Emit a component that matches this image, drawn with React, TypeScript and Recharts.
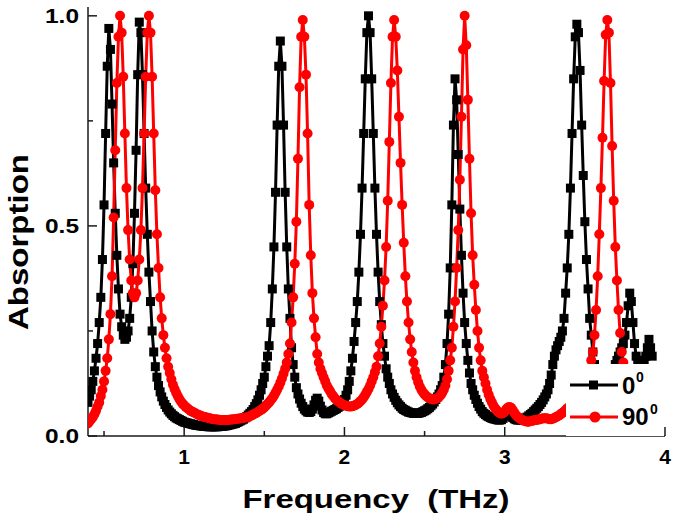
import { LineChart, Line, XAxis, YAxis, Legend, Label } from "recharts";

// sweep grid of the simulation (THz)
const FREQ_START = 0.4;
const FREQ_STEP = 0.01;

// absorption, 0 deg polarisation (one value per grid step, 0.40 .. 3.92)
const ABS_0 = [
  0.08, 0.095, 0.11, 0.13, 0.155, 0.185, 0.22, 0.27, 0.33, 0.42,
  0.55, 0.72, 0.88, 0.97, 0.92, 0.79, 0.65, 0.53, 0.43, 0.35,
  0.29, 0.26, 0.24, 0.23, 0.235, 0.25, 0.28, 0.33, 0.41, 0.53,
  0.68, 0.86, 0.985, 0.96, 0.86, 0.72, 0.59, 0.48, 0.39, 0.32,
  0.25, 0.2, 0.165, 0.14, 0.12, 0.105, 0.093, 0.083, 0.075, 0.068,
  0.062, 0.057, 0.053, 0.049, 0.046, 0.043, 0.041, 0.039, 0.037, 0.035,
  0.033, 0.032, 0.031, 0.03, 0.029, 0.028, 0.027, 0.026, 0.025, 0.025,
  0.024, 0.024, 0.023, 0.023, 0.023, 0.022, 0.022, 0.022, 0.022, 0.022,
  0.022, 0.022, 0.023, 0.023, 0.023, 0.024, 0.024, 0.025, 0.026, 0.027,
  0.028, 0.029, 0.03, 0.032, 0.034, 0.036, 0.038, 0.04, 0.043, 0.046,
  0.05, 0.054, 0.058, 0.063, 0.07, 0.077, 0.086, 0.097, 0.11, 0.125,
  0.14, 0.165, 0.19, 0.215, 0.27, 0.35, 0.45, 0.58, 0.74, 0.88,
  0.94, 0.88, 0.74, 0.58, 0.45, 0.35, 0.28, 0.21, 0.17, 0.14,
  0.115, 0.1, 0.088, 0.078, 0.07, 0.064, 0.06, 0.057, 0.056, 0.058,
  0.064, 0.074, 0.085, 0.09, 0.083, 0.071, 0.062, 0.056, 0.053, 0.053,
  0.055, 0.057, 0.059, 0.061, 0.063, 0.065, 0.068, 0.071, 0.075, 0.08,
  0.087, 0.097, 0.11, 0.13, 0.155, 0.185, 0.225, 0.27, 0.32, 0.39,
  0.48, 0.59, 0.72, 0.85, 0.96, 1.0, 0.96, 0.85, 0.72, 0.59,
  0.48, 0.39, 0.32, 0.265, 0.22, 0.19, 0.16, 0.14, 0.125, 0.11,
  0.1, 0.092, 0.085, 0.079, 0.074, 0.07, 0.066, 0.063, 0.061, 0.059,
  0.057, 0.056, 0.055, 0.054, 0.054, 0.054, 0.054, 0.055, 0.056, 0.058,
  0.06, 0.062, 0.065, 0.068, 0.072, 0.076, 0.081, 0.087, 0.093, 0.1,
  0.11, 0.12, 0.14, 0.17, 0.22, 0.29, 0.4, 0.55, 0.74, 0.85,
  0.8, 0.67, 0.54, 0.43, 0.34, 0.27, 0.22, 0.18, 0.15, 0.125,
  0.11, 0.097, 0.087, 0.078, 0.07, 0.064, 0.058, 0.054, 0.051, 0.048,
  0.046, 0.044, 0.042, 0.041, 0.04, 0.039, 0.038, 0.038, 0.039, 0.042,
  0.047, 0.052, 0.055, 0.053, 0.048, 0.044, 0.041, 0.039, 0.038, 0.038,
  0.038, 0.039, 0.041, 0.043, 0.045, 0.048, 0.051, 0.054, 0.058, 0.062,
  0.066, 0.07, 0.075, 0.08, 0.086, 0.093, 0.1, 0.11, 0.125, 0.145,
  0.17, 0.19, 0.205, 0.215, 0.225, 0.235, 0.25, 0.28, 0.34, 0.4,
  0.48, 0.59, 0.72, 0.85, 0.95, 0.98, 0.96, 0.87, 0.74, 0.62,
  0.51, 0.42, 0.35, 0.28, 0.24, 0.2, 0.17, 0.15, 0.14, 0.13,
  0.125, 0.12, 0.12, 0.12, 0.125, 0.13, 0.14, 0.15, 0.16, 0.17,
  0.18, 0.19, 0.2, 0.21, 0.22, 0.24, 0.27, 0.31, 0.34, 0.32,
  0.27, 0.22, 0.19, 0.18, 0.17, 0.17, 0.17, 0.18, 0.19, 0.21,
  0.23, 0.21, 0.19,
];

// absorption, 90 deg polarisation
const ABS_90 = [
  0.03, 0.035, 0.04, 0.045, 0.052, 0.06, 0.07, 0.08, 0.095, 0.11,
  0.13, 0.155, 0.185, 0.23, 0.29, 0.38, 0.52, 0.68, 0.84, 0.95,
  1.0, 0.96, 0.855, 0.72, 0.59, 0.49, 0.42, 0.37, 0.34, 0.33,
  0.34, 0.37, 0.42, 0.49, 0.59, 0.72, 0.855, 0.96, 1.0, 0.96,
  0.855, 0.72, 0.585, 0.48, 0.4, 0.33, 0.28, 0.24, 0.21, 0.185,
  0.165, 0.15, 0.135, 0.122, 0.112, 0.103, 0.095, 0.088, 0.082, 0.077,
  0.073, 0.069, 0.066, 0.063, 0.06, 0.058, 0.056, 0.054, 0.052, 0.05,
  0.049, 0.047, 0.046, 0.045, 0.044, 0.043, 0.042, 0.041, 0.04, 0.04,
  0.039, 0.039, 0.038, 0.038, 0.038, 0.038, 0.038, 0.038, 0.038, 0.039,
  0.039, 0.04, 0.04, 0.041, 0.041, 0.042, 0.042, 0.043, 0.044, 0.044,
  0.045, 0.047, 0.049, 0.051, 0.053, 0.055, 0.057, 0.06, 0.062, 0.065,
  0.068, 0.072, 0.076, 0.08, 0.085, 0.09, 0.096, 0.103, 0.11, 0.118,
  0.127, 0.137, 0.148, 0.16, 0.175, 0.195, 0.22, 0.27, 0.33, 0.41,
  0.51, 0.66, 0.83, 0.95, 0.99, 0.95, 0.86, 0.72, 0.55, 0.43,
  0.34, 0.28, 0.235, 0.195, 0.175, 0.16, 0.15, 0.14, 0.13, 0.12,
  0.113, 0.107, 0.1, 0.095, 0.09, 0.086, 0.083, 0.08, 0.077, 0.075,
  0.073, 0.072, 0.071, 0.07, 0.07, 0.071, 0.072, 0.074, 0.076, 0.079,
  0.083, 0.087, 0.092, 0.098, 0.105, 0.112, 0.12, 0.13, 0.14, 0.152,
  0.165, 0.19, 0.22, 0.26, 0.31, 0.37, 0.45, 0.56, 0.7, 0.84,
  0.95, 0.99, 0.95, 0.87, 0.76, 0.65, 0.55, 0.46, 0.38, 0.32,
  0.27, 0.23, 0.2, 0.175, 0.155, 0.14, 0.128, 0.118, 0.11, 0.104,
  0.099, 0.095, 0.092, 0.09, 0.088, 0.087, 0.087, 0.088, 0.09, 0.093,
  0.097, 0.103, 0.11, 0.12, 0.135, 0.155, 0.18, 0.21, 0.26, 0.32,
  0.4, 0.49, 0.61, 0.76, 0.92, 1.0, 0.93, 0.8, 0.66, 0.53,
  0.43, 0.36, 0.3, 0.25, 0.21, 0.18, 0.155, 0.14, 0.125, 0.11,
  0.098, 0.088, 0.08, 0.072, 0.066, 0.061, 0.057, 0.054, 0.053, 0.054,
  0.058, 0.064, 0.068, 0.069, 0.067, 0.062, 0.055, 0.05, 0.046, 0.043,
  0.04, 0.038, 0.036, 0.035, 0.034, 0.034, 0.035, 0.036, 0.037, 0.038,
  0.038, 0.039, 0.04, 0.041, 0.042, 0.042, 0.042, 0.041, 0.04, 0.04,
  0.041, 0.043, 0.045, 0.047, 0.049, 0.052, 0.055, 0.058, 0.062, 0.066,
  0.068, 0.072, 0.076, 0.08, 0.085, 0.09, 0.095, 0.1, 0.105, 0.112,
  0.12, 0.13, 0.145, 0.16, 0.18, 0.2, 0.24, 0.3, 0.38, 0.48,
  0.59, 0.71, 0.845, 0.955, 0.99, 0.96, 0.84, 0.69, 0.56, 0.45,
  0.37, 0.3, 0.245, 0.2, 0.175, 0.155, 0.14, 0.125, 0.115, 0.105,
  0.097, 0.09, 0.085, 0.08, 0.075, 0.072, 0.068, 0.065, 0.062, 0.06,
  0.058, 0.056, 0.054,
];

const X_TICKS = [0.5, 1, 1.5, 2, 2.5, 3, 3.5, 4];
const Y_TICKS = [0, 0.25, 0.5, 0.75, 1];
const Y_LABELS: Record<number, string> = { 0: "0.0", 0.5: "0.5", 1: "1.0" };

const FONT = "'Liberation Sans', Arial, sans-serif";
const AXIS = "#1a1a1a";

const data = ABS_0.map((v, i) => ({
  f: +(FREQ_START + i * FREQ_STEP).toFixed(2),
  a0: v,
  a90: ABS_90[i],
}));

const XTick = ({ x, y, payload }: any) => {
  const major = Number.isInteger(payload.value);
  return (
    <g>
      <line x1={x} x2={x} y1={y} y2={y - (major ? 9 : 5)} stroke={AXIS} strokeWidth={1.5} />
      {major && (
        <text x={x} y={y + 28} textAnchor="middle" fontFamily={FONT} fontWeight="bold" fontSize={21} fill="#000">
          {payload.value}
        </text>
      )}
    </g>
  );
};

const YTick = ({ x, y, payload }: any) => {
  const label = Y_LABELS[payload.value];
  return (
    <g>
      <line x1={x} x2={x + (label ? 9 : 5)} y1={y} y2={y} stroke={AXIS} strokeWidth={1.5} />
      {label && (
        <text
          x={x - 9}
          y={y + 7}
          textAnchor="end"
          fontFamily={FONT}
          fontWeight="bold"
          fontSize={20}
          textLength={34}
          lengthAdjust="spacingAndGlyphs"
          fill="#000"
        >
          {label}
        </text>
      )}
    </g>
  );
};

const XTitle = () => (
  <text
    x={376}
    y={508}
    textAnchor="middle"
    fontFamily={FONT}
    fontWeight="bold"
    fontSize={25}
    textLength={267}
    lengthAdjust="spacingAndGlyphs"
    style={{ whiteSpace: "pre" }}
    fill="#000"
  >
    {"Frequency  (THz)"}
  </text>
);

const YTitle = () => (
  <text
    transform="translate(28,242) rotate(-90)"
    textAnchor="middle"
    fontFamily={FONT}
    fontWeight="bold"
    fontSize={28}
    textLength={176}
    lengthAdjust="spacingAndGlyphs"
    fill="#000"
  >
    Absorption
  </text>
);

const renderSquare = (props: any) => {
  const { cx, cy, index } = props;
  if (cx == null || cy == null) return <g key={`sq-${index}`} />;
  return <rect key={`sq-${index}`} x={cx - 4.5} y={cy - 4.5} width={9} height={9} fill="#000" />;
};

const LegendBox = () => (
  <svg width={98} height={72} style={{ display: "block" }}>
    <rect x={0} y={0} width={98} height={72} fill="#fff" />
    <line x1={4} x2={52} y1={21} y2={21} stroke="#000" strokeWidth={3} />
    <rect x={23} y={16.5} width={9} height={9} fill="#000" />
    <text x={56} y={30} fontFamily={FONT} fontWeight="bold" fontSize={24} fill="#000">0</text>
    <text x={70} y={18} fontFamily={FONT} fontWeight="bold" fontSize={14} fill="#000">0</text>
    <line x1={4} x2={52} y1={53} y2={53} stroke="#ff0000" strokeWidth={3} />
    <circle cx={29} cy={53} r={5.5} fill="#ff0000" />
    <text x={56} y={61} fontFamily={FONT} fontWeight="bold" fontSize={24} fill="#000">90</text>
    <text x={84} y={50} fontFamily={FONT} fontWeight="bold" fontSize={14} fill="#000">0</text>
  </svg>
);

export default function App() {
  return (
    <div style={{ position: "absolute", left: 0, top: 0, width: 675, height: 515, background: "#fff" }}>
      <LineChart width={675} height={515} data={data} margin={{ top: 7, right: 10, bottom: 0, left: 8 }}>
        <XAxis
          dataKey="f"
          type="number"
          domain={[0.4, 4.0]}
          allowDataOverflow
          ticks={X_TICKS}
          interval={0}
          tickSize={0}
          tickMargin={0}
          tickLine={false}
          tick={<XTick />}
          height={79}
          axisLine={{ stroke: AXIS, strokeWidth: 1.5 }}
        >
          <Label content={<XTitle />} />
        </XAxis>
        <XAxis
          xAxisId="top"
          dataKey="f"
          type="number"
          orientation="top"
          domain={[0.4, 4.0]}
          allowDataOverflow
          height={0}
          tick={false}
          tickLine={false}
          axisLine={{ stroke: AXIS, strokeWidth: 1.5 }}
        />
        <YAxis
          type="number"
          domain={[0, 1.021]}
          allowDataOverflow
          ticks={Y_TICKS}
          interval={0}
          tickSize={0}
          tickMargin={0}
          tickLine={false}
          tick={<YTick />}
          width={80}
          axisLine={{ stroke: AXIS, strokeWidth: 1.5 }}
        >
          <Label content={<YTitle />} />
        </YAxis>
        <YAxis
          yAxisId="right"
          orientation="right"
          type="number"
          domain={[0, 1.021]}
          width={0}
          tick={false}
          tickLine={false}
          axisLine={{ stroke: AXIS, strokeWidth: 1.5 }}
        />
        <Line
          dataKey="a0"
          name="0"
          stroke="#000"
          strokeWidth={3}
          dot={renderSquare}
          activeDot={false}
          isAnimationActive={false}
        />
        <Line
          dataKey="a90"
          name="90"
          stroke="#ff0000"
          strokeWidth={3}
          dot={{ r: 5, fill: "#ff0000", stroke: "#ff0000", strokeWidth: 0 }}
          activeDot={false}
          isAnimationActive={false}
        />
        <Legend
          layout="horizontal"
          verticalAlign="middle"
          align="center"
          content={<LegendBox />}
          wrapperStyle={{ position: "absolute", left: 566, top: 364, width: 98, height: 72, margin: 0 }}
        />
      </LineChart>
    </div>
  );
}
